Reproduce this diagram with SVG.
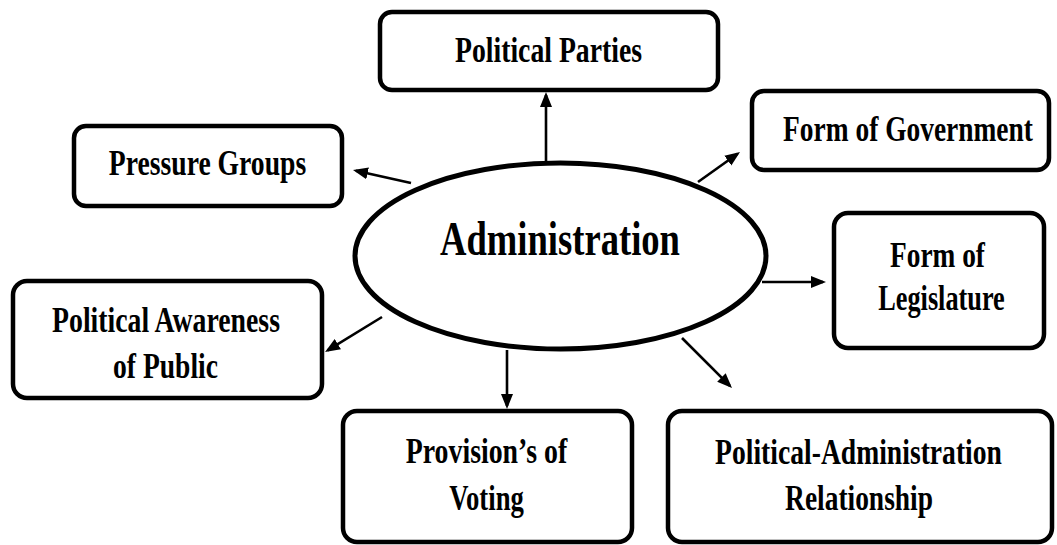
<svg xmlns="http://www.w3.org/2000/svg" width="1057" height="545" viewBox="0 0 1057 545">
<style>
.box{fill:#fff;stroke:#000;stroke-width:4.5}
.t{font-family:"Liberation Serif","Times New Roman",serif;font-weight:bold;font-size:35px;fill:#000;text-anchor:middle}
.big{font-size:49px}
.c{stroke:#000;stroke-width:2.6;fill:none;marker-end:url(#ah)}
</style>
<defs>
<marker id="ah" markerUnits="userSpaceOnUse" markerWidth="16" markerHeight="14" viewBox="0 0 16 14" refX="12" refY="7" orient="auto">
<path d="M0,1 L15,7 L0,13 Z" fill="#000"/>
</marker>
</defs>
<rect width="1057" height="545" fill="#fff"/>
<g id="connectors">
<line class="c" x1="546" y1="161" x2="546" y2="95"/>
<line class="c" x1="411" y1="183" x2="355.9" y2="170.7"/>
<line class="c" x1="698" y1="182" x2="737.6" y2="153.7"/>
<line class="c" x1="762" y1="282" x2="823" y2="282"/>
<line class="c" x1="682" y1="338" x2="729.9" y2="385.9"/>
<line class="c" x1="507" y1="350" x2="507" y2="406"/>
<line class="c" x1="382" y1="317" x2="327.6" y2="350.4"/>
</g>
<g id="administration">
<ellipse cx="560.5" cy="256" rx="205.5" ry="93" fill="#fff" stroke="#000" stroke-width="5"/>
<text class="t big" transform="translate(560 255) scale(0.747 1)">Administration</text>
</g>
<g id="political-parties">
<rect class="box" x="380" y="12" width="338" height="78" rx="12"/>
<text class="t" transform="translate(548.5 62) scale(0.792 1)">Political Parties</text>
</g>
<g id="pressure-groups">
<rect class="box" x="74" y="126" width="268" height="80" rx="12"/>
<text class="t" transform="translate(207.5 175) scale(0.79 1)">Pressure Groups</text>
</g>
<g id="form-of-government">
<rect class="box" x="752" y="91" width="297" height="79" rx="12"/>
<text class="t" transform="translate(908 141) scale(0.784 1)">Form of Government</text>
</g>
<g id="form-of-legislature">
<rect class="box" x="834" y="213" width="210" height="135" rx="14"/>
<text class="t" transform="translate(937.5 267) scale(0.782 1)">Form of</text>
<text class="t" transform="translate(941.5 310) scale(0.751 1)">Legislature</text>
</g>
<g id="political-awareness">
<rect class="box" x="13" y="281" width="309" height="117" rx="14"/>
<text class="t" transform="translate(166 332) scale(0.793 1)">Political Awareness</text>
<text class="t" transform="translate(165.5 378) scale(0.788 1)">of Public</text>
</g>
<g id="provisions-of-voting">
<rect class="box" x="343" y="411" width="289" height="131" rx="14"/>
<text class="t" transform="translate(486.5 463) scale(0.795 1)">Provision’s of</text>
<text class="t" transform="translate(486.5 510) scale(0.762 1)">Voting</text>
</g>
<g id="political-administration-relationship">
<rect class="box" x="668" y="411" width="384" height="131" rx="14"/>
<text class="t" transform="translate(858.5 464) scale(0.789 1)">Political-Administration</text>
<text class="t" transform="translate(859 510) scale(0.784 1)">Relationship</text>
</g>
</svg>
